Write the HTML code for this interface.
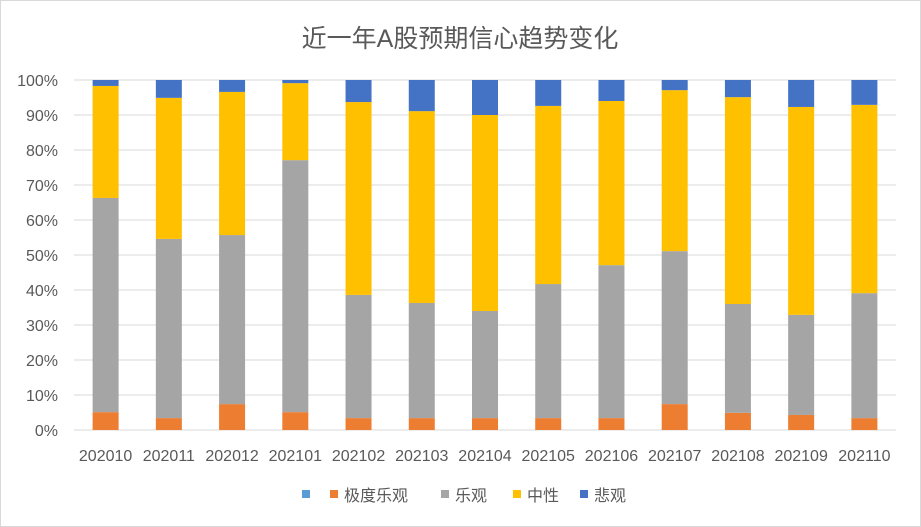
<!DOCTYPE html>
<html><head><meta charset="utf-8"><style>
body{margin:0;background:#fff;}
svg{display:block;font-family:"Liberation Sans","Noto Sans CJK SC",sans-serif;}
</style></head><body>
<svg id="chart" width="921" height="527">
<rect x="0.5" y="0.5" width="920" height="526" fill="#fff" stroke="#d9d9d9"/>
<text x="460" y="47" text-anchor="middle" font-size="25" fill="#595959">近一年A股预期信心趋势变化</text>
<g id="grid"></g><g id="bars"></g><g id="xlabels"></g><g id="legend"></g>
</svg>
<script>
const categories=["202010","202011","202012","202101","202102","202103","202104","202105","202106","202107","202108","202109","202110"];
const extremeOptimistic=[0,0,0,0,0,0,0,0,0,0,0,0,0];
const optimisticTop=[5.1,3.4,7.4,5.1,3.4,3.4,3.4,3.4,3.4,7.4,4.9,4.3,3.4];
const optimisticCum=[66.3,54.6,55.7,77.1,38.6,36.3,34.0,41.7,47.1,51.1,36.0,32.9,39.1];
const neutralCum=[98.3,94.9,96.6,99.1,93.7,91.1,90.0,92.6,94.0,97.1,95.1,92.3,92.9];
const yTicks=[0,10,20,30,40,50,60,70,80,90,100];
const seriesNames=["极度乐观","乐观","中性","悲观"];
const colors=["#5B9BD5","#ED7D31","#A5A5A5","#FFC000","#4472C4"];
const NS="http://www.w3.org/2000/svg";
const plotLeft=74,plotRight=896,plotTop=80,plotBottom=430;
const yScale=v=>plotBottom-(plotBottom-plotTop)*v/100;
const step=(plotRight-plotLeft)/categories.length;
const xc=i=>plotLeft+step*(i+0.5);
function mk(t,a,p){const e=document.createElementNS(NS,t);for(const k in a)e.setAttribute(k,a[k]);p.appendChild(e);return e;}
const grid=document.getElementById('grid');
yTicks.forEach(t=>{
 const l=mk('line',{x1:plotLeft,x2:plotRight,y1:yScale(t),y2:yScale(t),stroke:'#d9d9d9','stroke-width':1},grid);
 
 
 const tx=mk('text',{x:58,y:yScale(t)+6,'text-anchor':'end','font-size':16,fill:'#595959'},grid);
 tx.textContent=t+'%';
 
 
});
const bars=document.getElementById('bars'),xl=document.getElementById('xlabels');
const bw=26;
categories.forEach((c,i)=>{
 const segs=[[0,extremeOptimistic[i]],[extremeOptimistic[i],optimisticTop[i]],[optimisticTop[i],optimisticCum[i]],[optimisticCum[i],neutralCum[i]],[neutralCum[i],100]];
 const names=['extreme','optimistic-orange','optimistic-gray','neutral','pessimistic'];
 segs.forEach((s,k)=>{
  if(s[1]<=s[0])return;
  const r=mk('rect',{x:xc(i)-bw/2,y:yScale(s[1]),width:bw,height:yScale(s[0])-yScale(s[1]),fill:colors[k]},bars);
  
  
 });
 const t=mk('text',{x:xc(i),y:461,'text-anchor':'middle','font-size':16,fill:'#595959'},xl);
 t.textContent=c;
 
 
});
const lg=document.getElementById('legend');
const lx=[302,330,441,513,580],lc=["#5B9BD5","#ED7D31","#A5A5A5","#FFC000","#4472C4"],lt=["","极度乐观","乐观","中性","悲观"];
lx.forEach((x,k)=>{
 const r=mk('rect',{x:x,y:490,width:8,height:8,fill:lc[k]},lg);
 
 
 if(lt[k]){const t=mk('text',{x:x+14,y:501,'font-size':16,fill:'#595959'},lg);t.textContent=lt[k];
 
 }
});
</script>
</body></html>
